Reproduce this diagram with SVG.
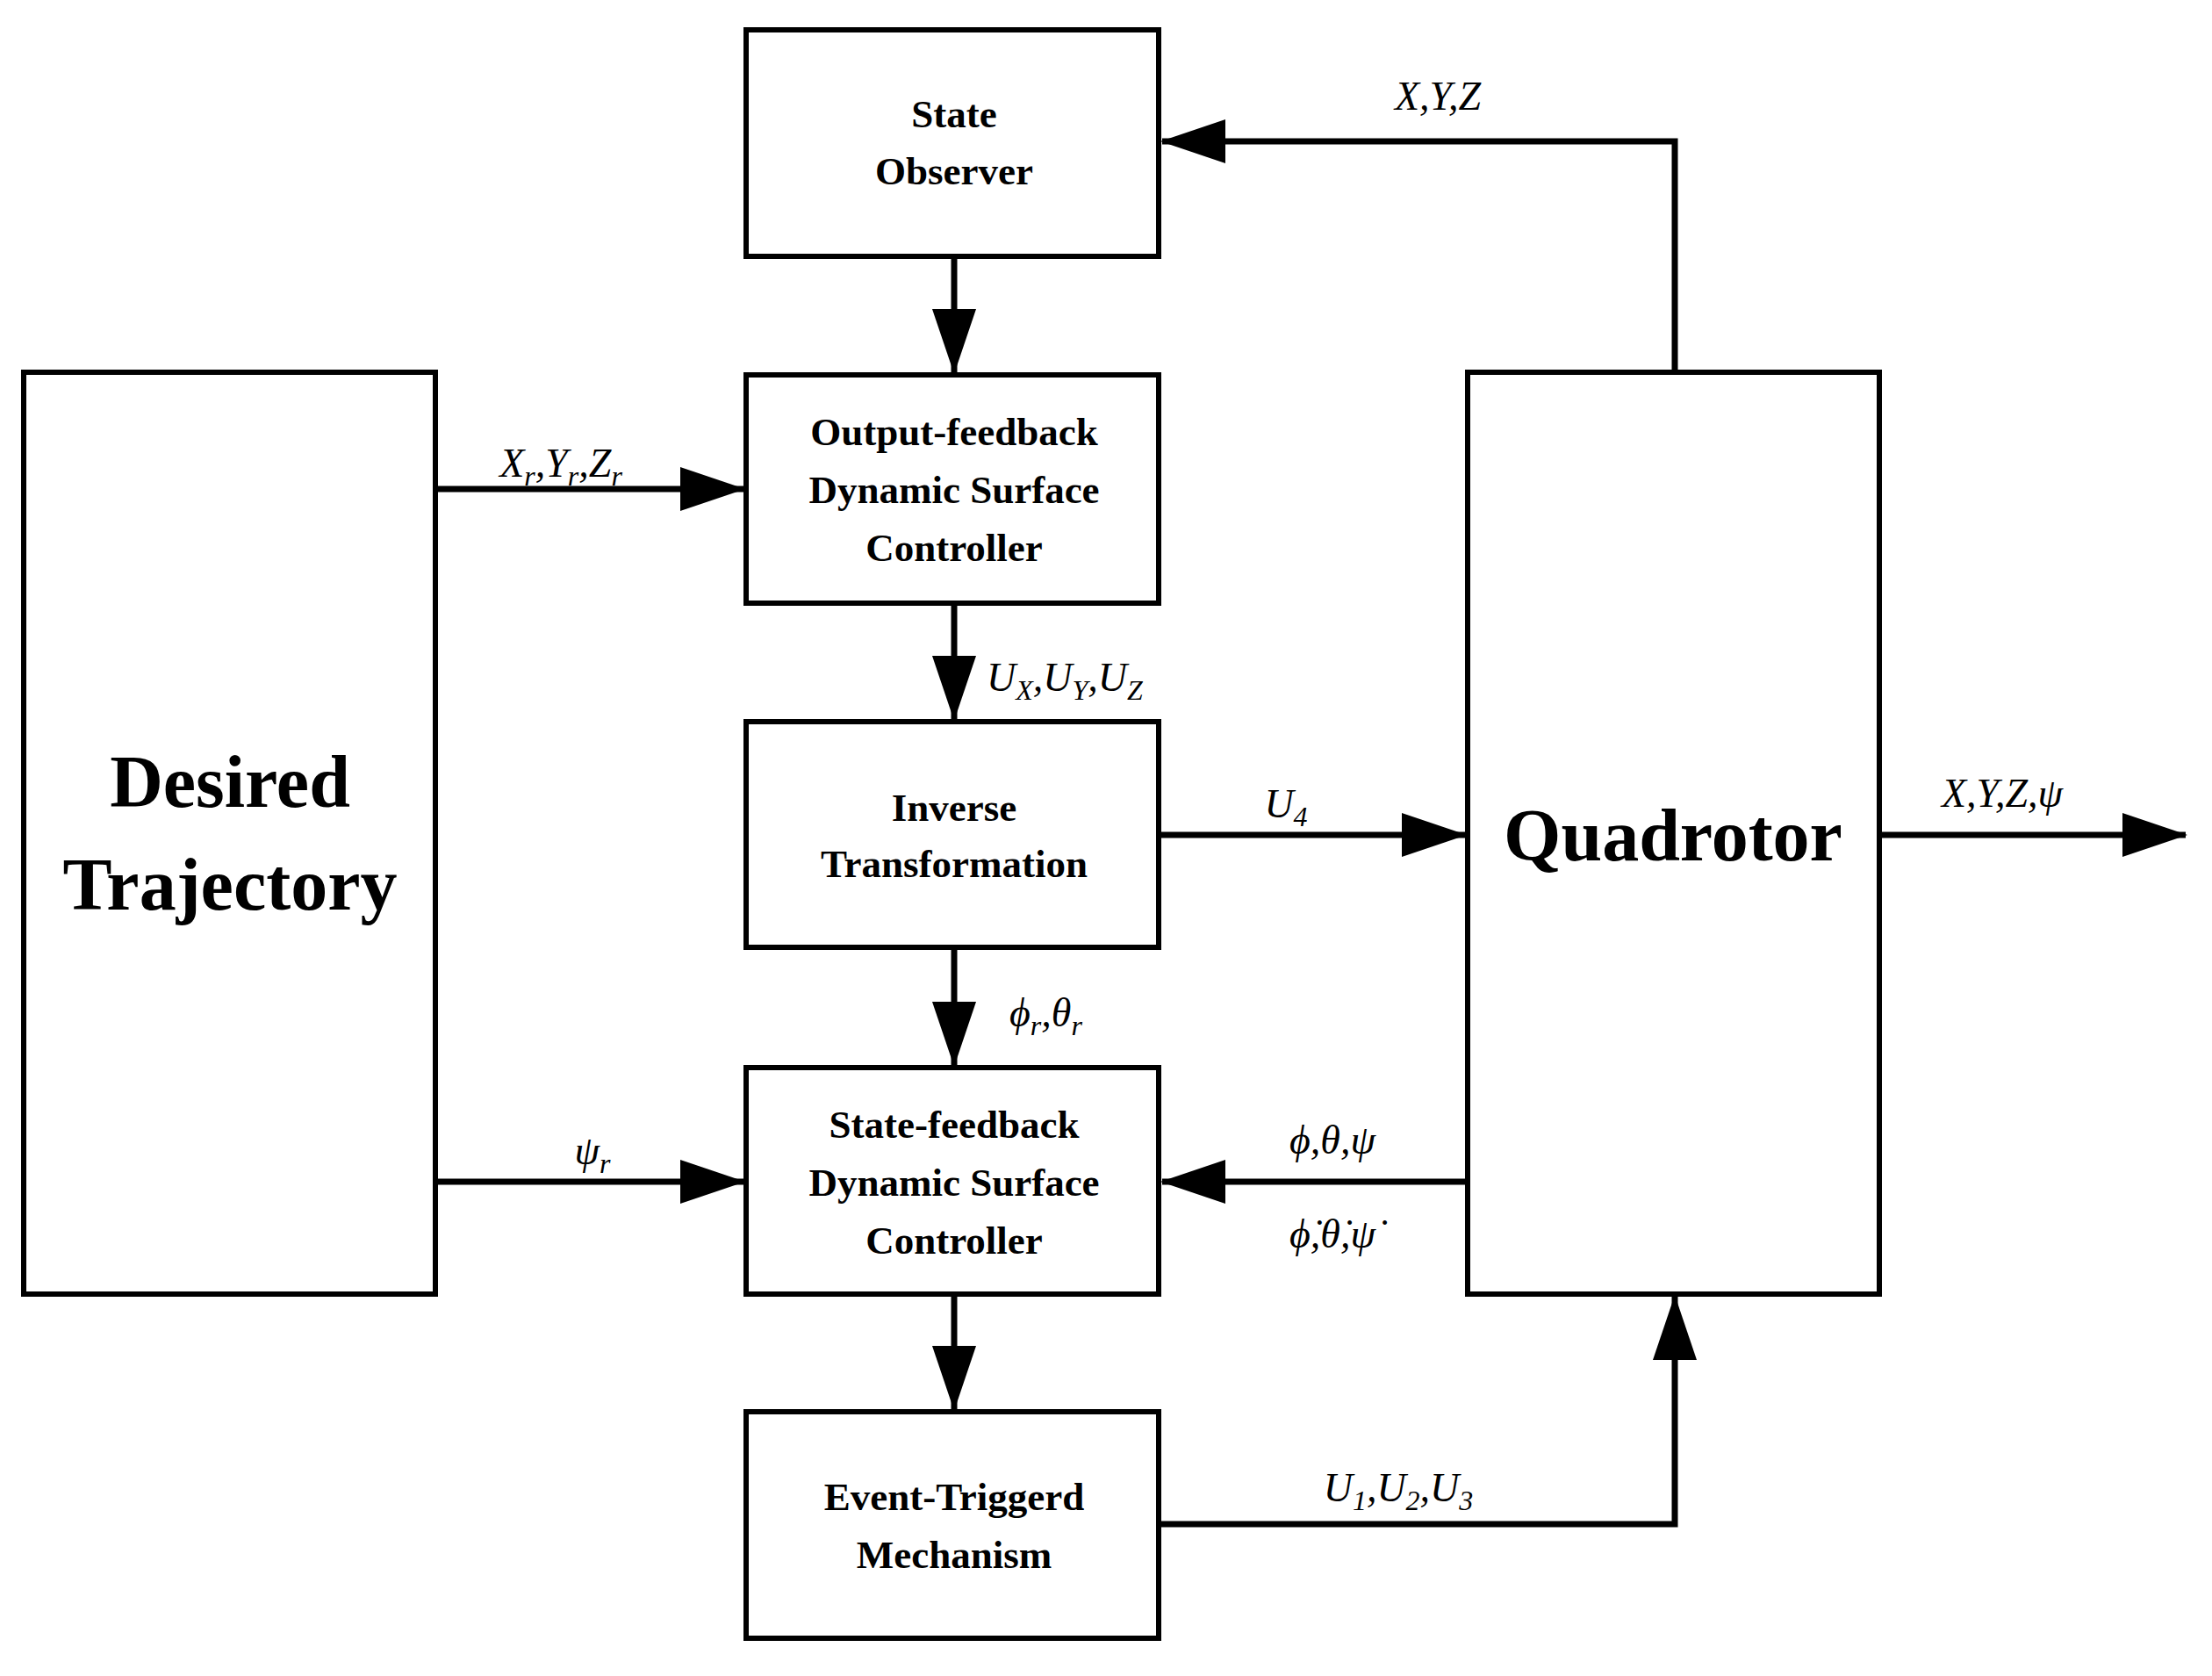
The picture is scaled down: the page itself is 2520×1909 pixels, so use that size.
<svg xmlns="http://www.w3.org/2000/svg" width="2520" height="1909" viewBox="0 0 2520 1909">
<style>
.box{fill:#fff;stroke:#000;stroke-width:6}
.bt{font-family:"Liberation Serif",serif;font-weight:bold;font-size:45px;text-anchor:middle}
.big{font-family:"Liberation Serif",serif;font-weight:bold;font-size:84px;text-anchor:middle}
.lb{font-family:"Liberation Serif",serif;font-style:italic;font-size:46px}
.ln{fill:none;stroke:#000;stroke-width:7}
</style>
<defs><marker id="a" markerUnits="userSpaceOnUse" markerWidth="74" markerHeight="50" refX="72" refY="25" orient="auto"><path d="M0,0 L74,25 L0,50 Z"/></marker></defs>
<rect width="2520" height="1909" fill="#fff"/>
<g id="connectors">
<path class="ln" d="M1908,424 V161 H1324" marker-end="url(#a)"/>
<path class="ln" d="M1087,292 V424" marker-end="url(#a)"/>
<path class="ln" d="M496,557 H847" marker-end="url(#a)"/>
<path class="ln" d="M1087,687 V819" marker-end="url(#a)"/>
<path class="ln" d="M1320,951 H1669" marker-end="url(#a)"/>
<path class="ln" d="M1087,1079 V1213" marker-end="url(#a)"/>
<path class="ln" d="M496,1346 H847" marker-end="url(#a)"/>
<path class="ln" d="M1672,1346 H1324" marker-end="url(#a)"/>
<path class="ln" d="M1087,1474 V1605" marker-end="url(#a)"/>
<path class="ln" d="M1320,1736 H1908 V1477" marker-end="url(#a)"/>
<path class="ln" d="M2141,951 H2490" marker-end="url(#a)"/>
<text class="lb" x="1638" y="125" text-anchor="middle">X,Y,Z</text>
<text class="lb" x="639" y="543" text-anchor="middle">X<tspan font-size="32" dy="10">r</tspan><tspan dy="-10">,Y</tspan><tspan font-size="32" dy="10">r</tspan><tspan dy="-10">,Z</tspan><tspan font-size="32" dy="10">r</tspan></text>
<text class="lb" x="1124" y="787">U<tspan font-size="32" dy="10">X</tspan><tspan dy="-10">,U</tspan><tspan font-size="32" dy="10">Y</tspan><tspan dy="-10">,U</tspan><tspan font-size="32" dy="10">Z</tspan></text>
<text class="lb" x="1465" y="931" text-anchor="middle">U<tspan font-size="32" dy="10">4</tspan></text>
<text class="lb" x="1150" y="1169">ϕ<tspan font-size="32" dy="10">r</tspan><tspan dy="-10">,θ</tspan><tspan font-size="32" dy="10">r</tspan></text>
<text class="lb" x="675" y="1326" text-anchor="middle">ψ<tspan font-size="32" dy="10">r</tspan></text>
<text class="lb" x="1518" y="1314" text-anchor="middle">ϕ,θ,ψ</text>
<text class="lb" x="1518" y="1421" text-anchor="middle">ϕ̇,θ̇,ψ̇</text>
<text class="lb" x="1593" y="1710" text-anchor="middle">U<tspan font-size="32" dy="10">1</tspan><tspan dy="-10">,U</tspan><tspan font-size="32" dy="10">2</tspan><tspan dy="-10">,U</tspan><tspan font-size="32" dy="10">3</tspan></text>
<text class="lb" x="2281" y="919" text-anchor="middle">X,Y,Z,ψ</text>
</g>
<g id="so"><rect class="box" x="850" y="34" width="470" height="258"/><text class="bt" x="1087" y="145">State</text><text class="bt" x="1087" y="210">Observer</text></g>
<g id="ofb"><rect class="box" x="850" y="427" width="470" height="260"/><text class="bt" x="1087" y="507">Output-feedback</text><text class="bt" x="1087" y="573">Dynamic Surface</text><text class="bt" x="1087" y="639">Controller</text></g>
<g id="inv"><rect class="box" x="850" y="822" width="470" height="257"/><text class="bt" x="1087" y="935">Inverse</text><text class="bt" x="1087" y="999">Transformation</text></g>
<g id="sfb"><rect class="box" x="850" y="1216" width="470" height="258"/><text class="bt" x="1087" y="1296">State-feedback</text><text class="bt" x="1087" y="1362">Dynamic Surface</text><text class="bt" x="1087" y="1428">Controller</text></g>
<g id="etm"><rect class="box" x="850" y="1608" width="470" height="258"/><text class="bt" x="1087" y="1720">Event-Triggerd</text><text class="bt" x="1087" y="1786">Mechanism</text></g>
<g id="dt"><rect class="box" x="27" y="424" width="469" height="1050"/><text class="big" x="262" y="919">Desired</text><text class="big" x="262" y="1036">Trajectory</text></g>
<g id="quad"><rect class="box" x="1672" y="424" width="469" height="1050"/><text class="big" x="1906" y="980">Quadrotor</text></g>
</svg>
